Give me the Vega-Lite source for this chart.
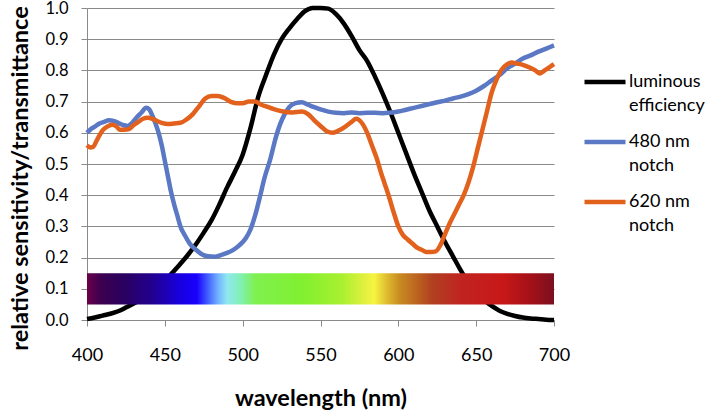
{
  "$schema": "https://vega.github.io/schema/vega-lite/v6.json",
  "width": 467,
  "height": 312,
  "autosize": "none",
  "padding": {"left": 87, "top": 8, "right": 156, "bottom": 92},
  "background": "white",
  "config": {
    "view": {"stroke": null},
    "font": "Lato",
    "style": {"guide-label": {"lineHeight": 24}}
  },
  "datasets": {
    "curves": [
      {"series": "luminous efficiency", "wl": 400, "v": 0.003},
      {"series": "luminous efficiency", "wl": 405, "v": 0.008},
      {"series": "luminous efficiency", "wl": 410, "v": 0.014},
      {"series": "luminous efficiency", "wl": 415, "v": 0.02},
      {"series": "luminous efficiency", "wl": 420, "v": 0.028},
      {"series": "luminous efficiency", "wl": 425, "v": 0.04},
      {"series": "luminous efficiency", "wl": 430, "v": 0.053},
      {"series": "luminous efficiency", "wl": 435, "v": 0.067},
      {"series": "luminous efficiency", "wl": 440, "v": 0.083},
      {"series": "luminous efficiency", "wl": 445, "v": 0.1},
      {"series": "luminous efficiency", "wl": 450, "v": 0.125},
      {"series": "luminous efficiency", "wl": 455, "v": 0.152},
      {"series": "luminous efficiency", "wl": 460, "v": 0.18},
      {"series": "luminous efficiency", "wl": 465, "v": 0.21},
      {"series": "luminous efficiency", "wl": 470, "v": 0.243},
      {"series": "luminous efficiency", "wl": 475, "v": 0.28},
      {"series": "luminous efficiency", "wl": 480, "v": 0.32},
      {"series": "luminous efficiency", "wl": 485, "v": 0.37},
      {"series": "luminous efficiency", "wl": 490, "v": 0.425},
      {"series": "luminous efficiency", "wl": 495, "v": 0.475},
      {"series": "luminous efficiency", "wl": 500, "v": 0.53},
      {"series": "luminous efficiency", "wl": 505, "v": 0.615},
      {"series": "luminous efficiency", "wl": 510, "v": 0.715},
      {"series": "luminous efficiency", "wl": 515, "v": 0.785},
      {"series": "luminous efficiency", "wl": 520, "v": 0.85},
      {"series": "luminous efficiency", "wl": 525, "v": 0.9},
      {"series": "luminous efficiency", "wl": 530, "v": 0.935},
      {"series": "luminous efficiency", "wl": 535, "v": 0.965},
      {"series": "luminous efficiency", "wl": 540, "v": 0.99},
      {"series": "luminous efficiency", "wl": 545, "v": 1.0},
      {"series": "luminous efficiency", "wl": 550, "v": 1.0},
      {"series": "luminous efficiency", "wl": 555, "v": 0.998},
      {"series": "luminous efficiency", "wl": 560, "v": 0.98},
      {"series": "luminous efficiency", "wl": 565, "v": 0.95},
      {"series": "luminous efficiency", "wl": 570, "v": 0.91},
      {"series": "luminous efficiency", "wl": 575, "v": 0.865},
      {"series": "luminous efficiency", "wl": 580, "v": 0.83},
      {"series": "luminous efficiency", "wl": 585, "v": 0.78},
      {"series": "luminous efficiency", "wl": 590, "v": 0.725},
      {"series": "luminous efficiency", "wl": 595, "v": 0.665},
      {"series": "luminous efficiency", "wl": 600, "v": 0.6},
      {"series": "luminous efficiency", "wl": 605, "v": 0.535},
      {"series": "luminous efficiency", "wl": 610, "v": 0.47},
      {"series": "luminous efficiency", "wl": 615, "v": 0.41},
      {"series": "luminous efficiency", "wl": 620, "v": 0.35},
      {"series": "luminous efficiency", "wl": 625, "v": 0.3},
      {"series": "luminous efficiency", "wl": 630, "v": 0.25},
      {"series": "luminous efficiency", "wl": 635, "v": 0.205},
      {"series": "luminous efficiency", "wl": 640, "v": 0.16},
      {"series": "luminous efficiency", "wl": 645, "v": 0.12},
      {"series": "luminous efficiency", "wl": 650, "v": 0.09},
      {"series": "luminous efficiency", "wl": 655, "v": 0.065},
      {"series": "luminous efficiency", "wl": 660, "v": 0.045},
      {"series": "luminous efficiency", "wl": 665, "v": 0.03},
      {"series": "luminous efficiency", "wl": 670, "v": 0.02},
      {"series": "luminous efficiency", "wl": 675, "v": 0.013},
      {"series": "luminous efficiency", "wl": 680, "v": 0.008},
      {"series": "luminous efficiency", "wl": 685, "v": 0.005},
      {"series": "luminous efficiency", "wl": 690, "v": 0.003},
      {"series": "luminous efficiency", "wl": 695, "v": 0.001},
      {"series": "luminous efficiency", "wl": 700, "v": 0.0},

      {"series": "480 nm notch", "wl": 400, "v": 0.6},
      {"series": "480 nm notch", "wl": 402, "v": 0.61},
      {"series": "480 nm notch", "wl": 405, "v": 0.62},
      {"series": "480 nm notch", "wl": 408, "v": 0.63},
      {"series": "480 nm notch", "wl": 411, "v": 0.635},
      {"series": "480 nm notch", "wl": 414, "v": 0.64},
      {"series": "480 nm notch", "wl": 417, "v": 0.638},
      {"series": "480 nm notch", "wl": 420, "v": 0.632},
      {"series": "480 nm notch", "wl": 423, "v": 0.625},
      {"series": "480 nm notch", "wl": 426, "v": 0.622},
      {"series": "480 nm notch", "wl": 429, "v": 0.632},
      {"series": "480 nm notch", "wl": 432, "v": 0.65},
      {"series": "480 nm notch", "wl": 435, "v": 0.665},
      {"series": "480 nm notch", "wl": 438, "v": 0.68},
      {"series": "480 nm notch", "wl": 440, "v": 0.675},
      {"series": "480 nm notch", "wl": 442, "v": 0.655},
      {"series": "480 nm notch", "wl": 444, "v": 0.63},
      {"series": "480 nm notch", "wl": 446, "v": 0.6},
      {"series": "480 nm notch", "wl": 448, "v": 0.56},
      {"series": "480 nm notch", "wl": 450, "v": 0.51},
      {"series": "480 nm notch", "wl": 452, "v": 0.46},
      {"series": "480 nm notch", "wl": 454, "v": 0.41},
      {"series": "480 nm notch", "wl": 456, "v": 0.37},
      {"series": "480 nm notch", "wl": 458, "v": 0.335},
      {"series": "480 nm notch", "wl": 460, "v": 0.3},
      {"series": "480 nm notch", "wl": 463, "v": 0.27},
      {"series": "480 nm notch", "wl": 466, "v": 0.245},
      {"series": "480 nm notch", "wl": 470, "v": 0.225},
      {"series": "480 nm notch", "wl": 474, "v": 0.21},
      {"series": "480 nm notch", "wl": 478, "v": 0.204},
      {"series": "480 nm notch", "wl": 482, "v": 0.203},
      {"series": "480 nm notch", "wl": 486, "v": 0.208},
      {"series": "480 nm notch", "wl": 490, "v": 0.215},
      {"series": "480 nm notch", "wl": 494, "v": 0.225},
      {"series": "480 nm notch", "wl": 498, "v": 0.24},
      {"series": "480 nm notch", "wl": 502, "v": 0.262},
      {"series": "480 nm notch", "wl": 505, "v": 0.29},
      {"series": "480 nm notch", "wl": 508, "v": 0.335},
      {"series": "480 nm notch", "wl": 511, "v": 0.393},
      {"series": "480 nm notch", "wl": 514, "v": 0.455},
      {"series": "480 nm notch", "wl": 518, "v": 0.52},
      {"series": "480 nm notch", "wl": 521, "v": 0.58},
      {"series": "480 nm notch", "wl": 524, "v": 0.627},
      {"series": "480 nm notch", "wl": 527, "v": 0.66},
      {"series": "480 nm notch", "wl": 530, "v": 0.683},
      {"series": "480 nm notch", "wl": 534, "v": 0.695},
      {"series": "480 nm notch", "wl": 538, "v": 0.698},
      {"series": "480 nm notch", "wl": 542, "v": 0.69},
      {"series": "480 nm notch", "wl": 546, "v": 0.682},
      {"series": "480 nm notch", "wl": 550, "v": 0.675},
      {"series": "480 nm notch", "wl": 555, "v": 0.668},
      {"series": "480 nm notch", "wl": 560, "v": 0.664},
      {"series": "480 nm notch", "wl": 565, "v": 0.663},
      {"series": "480 nm notch", "wl": 570, "v": 0.665},
      {"series": "480 nm notch", "wl": 575, "v": 0.663},
      {"series": "480 nm notch", "wl": 580, "v": 0.664},
      {"series": "480 nm notch", "wl": 585, "v": 0.664},
      {"series": "480 nm notch", "wl": 590, "v": 0.663},
      {"series": "480 nm notch", "wl": 595, "v": 0.665},
      {"series": "480 nm notch", "wl": 600, "v": 0.668},
      {"series": "480 nm notch", "wl": 605, "v": 0.674},
      {"series": "480 nm notch", "wl": 610, "v": 0.68},
      {"series": "480 nm notch", "wl": 615, "v": 0.686},
      {"series": "480 nm notch", "wl": 620, "v": 0.692},
      {"series": "480 nm notch", "wl": 625, "v": 0.698},
      {"series": "480 nm notch", "wl": 630, "v": 0.703},
      {"series": "480 nm notch", "wl": 635, "v": 0.71},
      {"series": "480 nm notch", "wl": 640, "v": 0.716},
      {"series": "480 nm notch", "wl": 645, "v": 0.724},
      {"series": "480 nm notch", "wl": 650, "v": 0.735},
      {"series": "480 nm notch", "wl": 655, "v": 0.75},
      {"series": "480 nm notch", "wl": 660, "v": 0.768},
      {"series": "480 nm notch", "wl": 665, "v": 0.785},
      {"series": "480 nm notch", "wl": 670, "v": 0.807},
      {"series": "480 nm notch", "wl": 675, "v": 0.822},
      {"series": "480 nm notch", "wl": 680, "v": 0.838},
      {"series": "480 nm notch", "wl": 685, "v": 0.848},
      {"series": "480 nm notch", "wl": 690, "v": 0.86},
      {"series": "480 nm notch", "wl": 695, "v": 0.87},
      {"series": "480 nm notch", "wl": 700, "v": 0.88},

      {"series": "620 nm notch", "wl": 400, "v": 0.56},
      {"series": "620 nm notch", "wl": 402, "v": 0.553},
      {"series": "620 nm notch", "wl": 404, "v": 0.555},
      {"series": "620 nm notch", "wl": 406, "v": 0.573},
      {"series": "620 nm notch", "wl": 408, "v": 0.592},
      {"series": "620 nm notch", "wl": 410, "v": 0.608},
      {"series": "620 nm notch", "wl": 413, "v": 0.62},
      {"series": "620 nm notch", "wl": 416, "v": 0.626},
      {"series": "620 nm notch", "wl": 419, "v": 0.62},
      {"series": "620 nm notch", "wl": 421, "v": 0.61},
      {"series": "620 nm notch", "wl": 424, "v": 0.61},
      {"series": "620 nm notch", "wl": 427, "v": 0.612},
      {"series": "620 nm notch", "wl": 430, "v": 0.625},
      {"series": "620 nm notch", "wl": 433, "v": 0.635},
      {"series": "620 nm notch", "wl": 436, "v": 0.645},
      {"series": "620 nm notch", "wl": 439, "v": 0.648},
      {"series": "620 nm notch", "wl": 442, "v": 0.645},
      {"series": "620 nm notch", "wl": 445, "v": 0.638},
      {"series": "620 nm notch", "wl": 448, "v": 0.632},
      {"series": "620 nm notch", "wl": 452, "v": 0.628},
      {"series": "620 nm notch", "wl": 456, "v": 0.63},
      {"series": "620 nm notch", "wl": 460, "v": 0.632},
      {"series": "620 nm notch", "wl": 464, "v": 0.643},
      {"series": "620 nm notch", "wl": 468, "v": 0.66},
      {"series": "620 nm notch", "wl": 472, "v": 0.685},
      {"series": "620 nm notch", "wl": 476, "v": 0.71},
      {"series": "620 nm notch", "wl": 480, "v": 0.718},
      {"series": "620 nm notch", "wl": 484, "v": 0.718},
      {"series": "620 nm notch", "wl": 488, "v": 0.712},
      {"series": "620 nm notch", "wl": 492, "v": 0.7},
      {"series": "620 nm notch", "wl": 496, "v": 0.695},
      {"series": "620 nm notch", "wl": 500, "v": 0.695},
      {"series": "620 nm notch", "wl": 504, "v": 0.7},
      {"series": "620 nm notch", "wl": 508, "v": 0.7},
      {"series": "620 nm notch", "wl": 512, "v": 0.69},
      {"series": "620 nm notch", "wl": 516, "v": 0.683},
      {"series": "620 nm notch", "wl": 520, "v": 0.676},
      {"series": "620 nm notch", "wl": 526, "v": 0.668},
      {"series": "620 nm notch", "wl": 532, "v": 0.665},
      {"series": "620 nm notch", "wl": 538, "v": 0.668},
      {"series": "620 nm notch", "wl": 542, "v": 0.66},
      {"series": "620 nm notch", "wl": 546, "v": 0.64},
      {"series": "620 nm notch", "wl": 550, "v": 0.622},
      {"series": "620 nm notch", "wl": 554, "v": 0.605},
      {"series": "620 nm notch", "wl": 558, "v": 0.6},
      {"series": "620 nm notch", "wl": 562, "v": 0.608},
      {"series": "620 nm notch", "wl": 566, "v": 0.62},
      {"series": "620 nm notch", "wl": 570, "v": 0.635},
      {"series": "620 nm notch", "wl": 573, "v": 0.645},
      {"series": "620 nm notch", "wl": 576, "v": 0.635},
      {"series": "620 nm notch", "wl": 580, "v": 0.6},
      {"series": "620 nm notch", "wl": 583, "v": 0.56},
      {"series": "620 nm notch", "wl": 586, "v": 0.52},
      {"series": "620 nm notch", "wl": 589, "v": 0.47},
      {"series": "620 nm notch", "wl": 591, "v": 0.44},
      {"series": "620 nm notch", "wl": 594, "v": 0.395},
      {"series": "620 nm notch", "wl": 597, "v": 0.345},
      {"series": "620 nm notch", "wl": 600, "v": 0.3},
      {"series": "620 nm notch", "wl": 603, "v": 0.272},
      {"series": "620 nm notch", "wl": 606, "v": 0.258},
      {"series": "620 nm notch", "wl": 609, "v": 0.245},
      {"series": "620 nm notch", "wl": 612, "v": 0.232},
      {"series": "620 nm notch", "wl": 615, "v": 0.225},
      {"series": "620 nm notch", "wl": 618, "v": 0.218},
      {"series": "620 nm notch", "wl": 621, "v": 0.218},
      {"series": "620 nm notch", "wl": 624, "v": 0.22},
      {"series": "620 nm notch", "wl": 627, "v": 0.24},
      {"series": "620 nm notch", "wl": 630, "v": 0.275},
      {"series": "620 nm notch", "wl": 633, "v": 0.31},
      {"series": "620 nm notch", "wl": 636, "v": 0.34},
      {"series": "620 nm notch", "wl": 639, "v": 0.37},
      {"series": "620 nm notch", "wl": 642, "v": 0.4},
      {"series": "620 nm notch", "wl": 645, "v": 0.44},
      {"series": "620 nm notch", "wl": 648, "v": 0.49},
      {"series": "620 nm notch", "wl": 651, "v": 0.55},
      {"series": "620 nm notch", "wl": 654, "v": 0.61},
      {"series": "620 nm notch", "wl": 657, "v": 0.67},
      {"series": "620 nm notch", "wl": 660, "v": 0.73},
      {"series": "620 nm notch", "wl": 663, "v": 0.77},
      {"series": "620 nm notch", "wl": 666, "v": 0.8},
      {"series": "620 nm notch", "wl": 670, "v": 0.82},
      {"series": "620 nm notch", "wl": 673, "v": 0.825},
      {"series": "620 nm notch", "wl": 676, "v": 0.822},
      {"series": "620 nm notch", "wl": 680, "v": 0.818},
      {"series": "620 nm notch", "wl": 684, "v": 0.81},
      {"series": "620 nm notch", "wl": 688, "v": 0.8},
      {"series": "620 nm notch", "wl": 691, "v": 0.79},
      {"series": "620 nm notch", "wl": 694, "v": 0.8},
      {"series": "620 nm notch", "wl": 697, "v": 0.81},
      {"series": "620 nm notch", "wl": 700, "v": 0.82}
    ],
    "bar": [{"from": 400, "to": 700, "low": 0.05, "high": 0.15}]
  },
  "layer": [
    {
      "data": {"name": "curves"},
      "mark": {"type": "line", "strokeWidth": 4.5, "interpolate": "monotone"},
      "encoding": {
        "x": {
          "field": "wl", "type": "quantitative",
          "scale": {"domain": [400, 700], "nice": false, "zero": false},
          "axis": {
            "values": [400, 450, 500, 550, 600, 650, 700],
            "tickCount": 20,
            "grid": false,
            "labelFlush": false, "labelOverlap": false,
            "domainColor": "#8a8a8a", "domainWidth": 1,
            "tickColor": "#8a8a8a", "tickSize": 6,
            "labelFont": "Lato", "labelFontSize": 18, "labelColor": "#000000", "labelPadding": 20,
            "title": "wavelength (nm)",
            "titleFont": "Lato", "titleFontSize": 23.5, "titleFontWeight": "bold", "titleColor": "#000000",
            "titleBaseline": "alphabetic", "titleY": 85
          }
        },
        "y": {
          "field": "v", "type": "quantitative",
          "scale": {"domain": [0, 1], "nice": false},
          "axis": {
            "values": [0, 0.1, 0.2, 0.3, 0.4, 0.5, 0.6, 0.7, 0.8, 0.9, 1.0],
            "tickCount": 30,
            "format": ".1f",
            "labelFlush": false, "labelOverlap": false,
            "grid": true, "gridColor": "#8a8a8a", "gridWidth": 1,
            "domainColor": "#8a8a8a", "domainWidth": 1,
            "tickColor": "#8a8a8a", "tickSize": 6,
            "labelFont": "Lato", "labelFontSize": 16.5, "labelColor": "#000000", "labelPadding": 13,
            "title": "relative sensitivity/transmittance",
            "titleFont": "Lato", "titleFontSize": 23.5, "titleFontWeight": "bold", "titleColor": "#000000",
            "titleAngle": 270, "titleBaseline": "middle", "titleAlign": "center",
            "titleX": -67, "titleY": 170
          }
        },
        "color": {
          "field": "series", "type": "nominal",
          "scale": {
            "domain": ["luminous efficiency", "480 nm notch", "620 nm notch"],
            "range": ["#000000", "#5a78c3", "#e2611c"]
          },
          "legend": {
            "orient": "none", "legendX": 495, "legendY": 51,
            "title": null, "padding": 0,
            "symbolType": "stroke", "symbolStrokeWidth": 4.5, "symbolSize": 1681,
            "labelFont": "Lato", "labelFontSize": 18, "labelColor": "#000000",
            "labelOffset": 1, "labelLimit": 0, "rowPadding": 4,
            "labelExpr": "datum.label == 'luminous efficiency' ? ['luminous', 'efficiency'] : datum.label == '480 nm notch' ? ['480 nm', 'notch'] : ['620 nm', 'notch']"
          }
        }
      }
    },
    {
      "data": {"name": "bar"},
      "mark": {
        "type": "rect",
        "fill": {
          "gradient": "linear", "x1": 0, "y1": 0, "x2": 1, "y2": 0,
          "stops": [
            {"offset": 0, "color": "#6a0048"},
            {"offset": 0.03, "color": "#3c0050"},
            {"offset": 0.08, "color": "#2a0060"},
            {"offset": 0.14, "color": "#220090"},
            {"offset": 0.2, "color": "#1800e0"},
            {"offset": 0.235, "color": "#1a00ff"},
            {"offset": 0.255, "color": "#3a50ff"},
            {"offset": 0.28, "color": "#70b0ff"},
            {"offset": 0.3, "color": "#90e8f0"},
            {"offset": 0.33, "color": "#80f0b0"},
            {"offset": 0.36, "color": "#80f050"},
            {"offset": 0.46, "color": "#80f030"},
            {"offset": 0.545, "color": "#a8f030"},
            {"offset": 0.6, "color": "#e8f040"},
            {"offset": 0.615, "color": "#f5f540"},
            {"offset": 0.64, "color": "#e0c030"},
            {"offset": 0.67, "color": "#c88a20"},
            {"offset": 0.74, "color": "#b04020"},
            {"offset": 0.8, "color": "#c02420"},
            {"offset": 0.89, "color": "#c81818"},
            {"offset": 0.955, "color": "#a01018"},
            {"offset": 1, "color": "#7a1020"}
          ]
        }
      },
      "encoding": {
        "x": {"field": "from", "type": "quantitative"},
        "x2": {"field": "to"},
        "y": {"field": "low", "type": "quantitative"},
        "y2": {"field": "high"}
      }
    }
  ]
}
